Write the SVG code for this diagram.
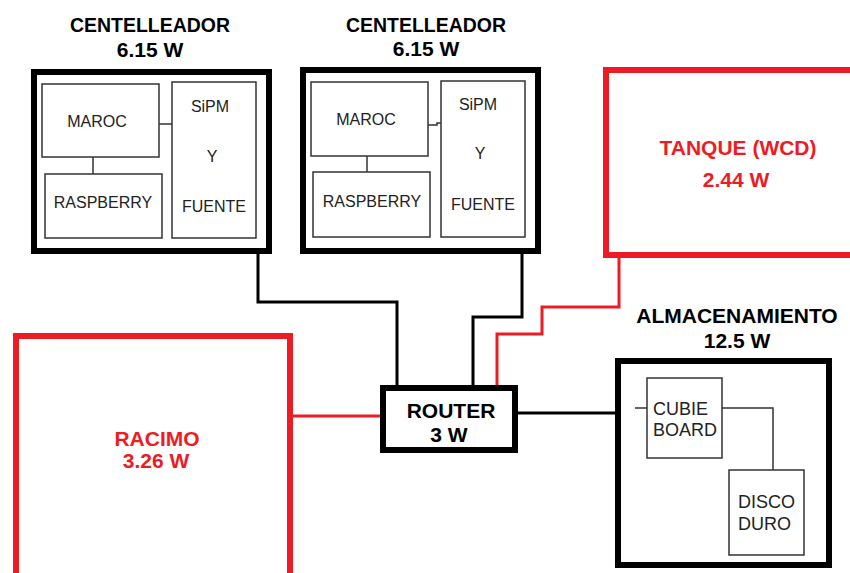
<svg xmlns="http://www.w3.org/2000/svg" width="850" height="573" viewBox="0 0 850 573">
<style>
.bg{fill:#fff}
.outer{fill:#fff;stroke:#000;stroke-width:6}
.red{fill:#fff;stroke:#ED1C24;stroke-width:6}
.inner{fill:#fff;stroke:#333;stroke-width:1.5}
.thin{fill:none;stroke:#333;stroke-width:1.5}
.wire{fill:none;stroke:#000;stroke-width:3}
.rwire{fill:none;stroke:#ED1C24;stroke-width:3}
.title{font-family:"Liberation Sans",Arial,sans-serif;font-weight:bold;font-size:21px;fill:#000;text-anchor:middle}
.rtitle{font-family:"Liberation Sans",Arial,sans-serif;font-weight:bold;font-size:21px;fill:#ED1C24;text-anchor:middle}
.lbl{font-family:"Liberation Sans",Arial,sans-serif;font-size:16px;fill:#222;text-anchor:middle}
.lbl2{font-family:"Liberation Sans",Arial,sans-serif;font-size:18px;fill:#222}
</style>
<rect class="bg" x="0" y="0" width="850" height="573"/>
<g id="connectors">
<polyline class="wire" points="258,254 258,302 397,302 397,386"/>
<polyline class="wire" points="522,254 522,317 473,317 473,386"/>
<polyline class="rwire" points="619,258 619,307 542,307 542,334 497,334 497,386"/>
<line class="rwire" x1="293" y1="416" x2="381" y2="416"/>
<line class="wire" x1="518" y1="413" x2="616" y2="413"/>
</g>
<g id="centelleador1">
<text class="title" x="150" y="32" textLength="160" lengthAdjust="spacingAndGlyphs">CENTELLEADOR</text>
<text class="title" x="150" y="57">6.15 W</text>
<rect class="outer" x="34" y="72" width="235" height="179"/>
<rect class="inner" x="42" y="84" width="117" height="73"/>
<rect class="inner" x="45" y="174" width="117" height="64"/>
<rect class="inner" x="172" y="82" width="84" height="156"/>
<line class="thin" x1="159" y1="124" x2="172" y2="124"/>
<line class="thin" x1="93" y1="157" x2="93" y2="174"/>
<text class="lbl" x="97" y="127">MAROC</text>
<text class="lbl" x="103" y="208">RASPBERRY</text>
<text class="lbl" x="210" y="112">SiPM</text>
<text class="lbl" x="212" y="162">Y</text>
<text class="lbl" x="214" y="212">FUENTE</text>
</g>
<g id="centelleador2">
<text class="title" x="426" y="32" textLength="160" lengthAdjust="spacingAndGlyphs">CENTELLEADOR</text>
<text class="title" x="426" y="56">6.15 W</text>
<rect class="outer" x="303" y="70" width="235" height="181"/>
<rect class="inner" x="311" y="82" width="117" height="74"/>
<rect class="inner" x="313" y="172" width="117" height="65"/>
<rect class="inner" x="441" y="81" width="84" height="156"/>
<polyline class="thin" points="428,125 437,125 437,123 441,123"/>
<line class="thin" x1="367" y1="156" x2="367" y2="172"/>
<text class="lbl" x="366" y="125">MAROC</text>
<text class="lbl" x="372" y="207">RASPBERRY</text>
<text class="lbl" x="478" y="110">SiPM</text>
<text class="lbl" x="480" y="159">Y</text>
<text class="lbl" x="483" y="210">FUENTE</text>
</g>
<g id="tanque">
<rect class="red" x="606" y="70" width="260" height="185"/>
<text class="rtitle" x="738" y="155">TANQUE (WCD)</text>
<text class="rtitle" x="736" y="187">2.44 W</text>
</g>
<g id="racimo">
<rect class="red" x="16" y="336" width="274" height="240"/>
<text class="rtitle" x="157" y="446">RACIMO</text>
<text class="rtitle" x="156" y="468">3.26 W</text>
</g>
<g id="router">
<rect class="outer" x="383" y="388" width="132" height="62"/>
<text class="title" x="451" y="418">ROUTER</text>
<text class="title" x="449" y="442">3 W</text>
</g>
<g id="almacenamiento">
<text class="title" x="737" y="323">ALMACENAMIENTO</text>
<text class="title" x="737" y="348">12.5 W</text>
<rect class="outer" x="618" y="361" width="211" height="204"/>
<rect class="inner" x="647" y="378" width="75" height="80"/>
<rect class="inner" x="729" y="470" width="75" height="85"/>
<line class="thin" x1="635" y1="408" x2="647" y2="408"/>
<polyline class="thin" points="722,408 773,408 773,470"/>
<text class="lbl2" x="653" y="415">CUBIE</text>
<text class="lbl2" x="653" y="436">BOARD</text>
<text class="lbl2" x="738" y="508">DISCO</text>
<text class="lbl2" x="738" y="530">DURO</text>
</g>
</svg>
